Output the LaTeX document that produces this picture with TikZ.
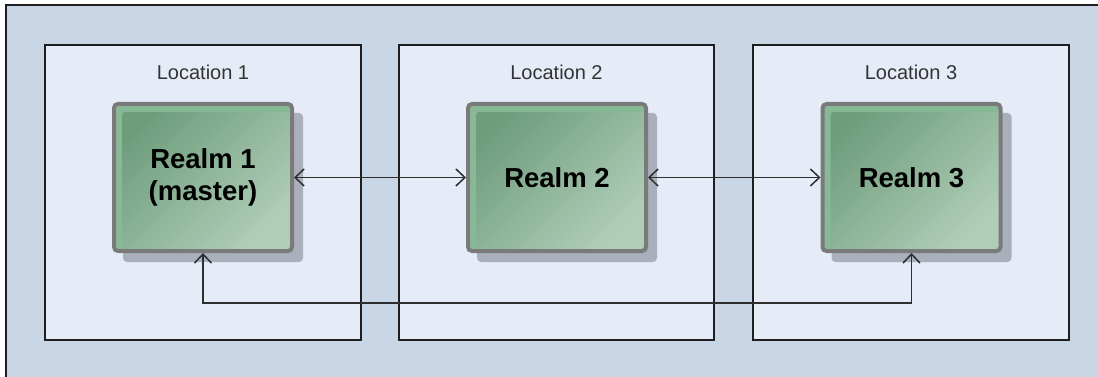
\documentclass[tikz,border=0pt]{standalone}
\usepackage{fontspec}
\setmainfont{Liberation Sans}
\usetikzlibrary{arrows.meta}

\definecolor{bgblue}{HTML}{C9D6E6}
\definecolor{locfill}{HTML}{E6ECF7}
\definecolor{frame}{HTML}{1E1E1E}
\definecolor{realmedge}{HTML}{7A7A7A}
\definecolor{realmrim}{HTML}{88B997}
\definecolor{realmdark}{HTML}{6E9D7C}
\definecolor{realmmid}{HTML}{7DA989}
\definecolor{realmlight}{HTML}{B0CDB8}
\definecolor{realmshadow}{HTML}{A9AFBB}
\definecolor{linkc}{HTML}{2E2E2E}
\definecolor{labelc}{HTML}{333333}

\tikzset{
  locbox/.style={draw=frame, fill=locfill, line width=1.5pt},
  loclabel/.style={anchor=base, text=labelc, inner sep=0pt,
    font=\fontsize{20}{24}\selectfont},
  realm/.style={draw=realmedge, line width=4pt, rounded corners=4pt,
    fill=realmrim, outer sep=0pt, inner sep=0pt,
    minimum width=178pt, minimum height=147pt, align=center,
    font=\bfseries\fontsize{27.5}{32}\selectfont,
    path picture={
      \shade[top color=realmdark, middle color=realmmid,
             bottom color=realmlight, shading angle=45,
             rounded corners=3pt]
        ([xshift=8pt,yshift=-8pt]path picture bounding box.north west)
        rectangle (path picture bounding box.south east);
    }},
  realmshade/.style={fill=realmshadow, rounded corners=4pt},
  link/.style={draw=linkc, line width=1.7pt,
    {Straight Barb[length=9pt,width=17pt,line width=1.5pt]}-{Straight Barb[length=9pt,width=17pt,line width=1.5pt]},
    shorten <=2pt, shorten >=2pt}
}

\begin{document}
\begin{tikzpicture}[x=1pt, y=-1pt]
  \useasboundingbox (0,0) rectangle (1098,377);

  % canvas with its top and left frame lines
  \fill[bgblue] (6,5) rectangle (1098,377);
  \draw[frame, line width=1.5pt] (6,377) -- (6,5) -- (1098,5);

  % location boxes
  \draw[locbox] (45,45) rectangle (361,340);
  \draw[locbox] (399,45) rectangle (714,340);
  \draw[locbox] (753,45) rectangle (1069,340);

  \node[loclabel] (loc1) at (203,80) {Location 1};
  \node[loclabel] (loc2) at (556.5,80) {Location 2};
  \node[loclabel] (loc3) at (911,80) {Location 3};

  % shadows under the realm boxes
  \foreach \cx in {203,557,911.5}{
    \fill[realmshade] (\cx-89+9,177.5-73.5+9) rectangle (\cx+89+11,177.5+73.5+11);
  }

  % realm boxes
  \node[realm] (realm1) at (203,177.5) {Realm 1\\(master)};
  \node[realm] (realm2) at (557,177.5) {Realm 2};
  \node[realm] (realm3) at (911.5,177.5) {Realm 3};

  % replication links
  \coordinate (low) at (0,303);
  \draw[link] (realm1.east) -- (realm2.west);
  \draw[link] (realm2.east) -- (realm3.west);
  \draw[link] (realm1.south) -- (realm1.south |- low) -| (realm3.south);
\end{tikzpicture}
\end{document}
